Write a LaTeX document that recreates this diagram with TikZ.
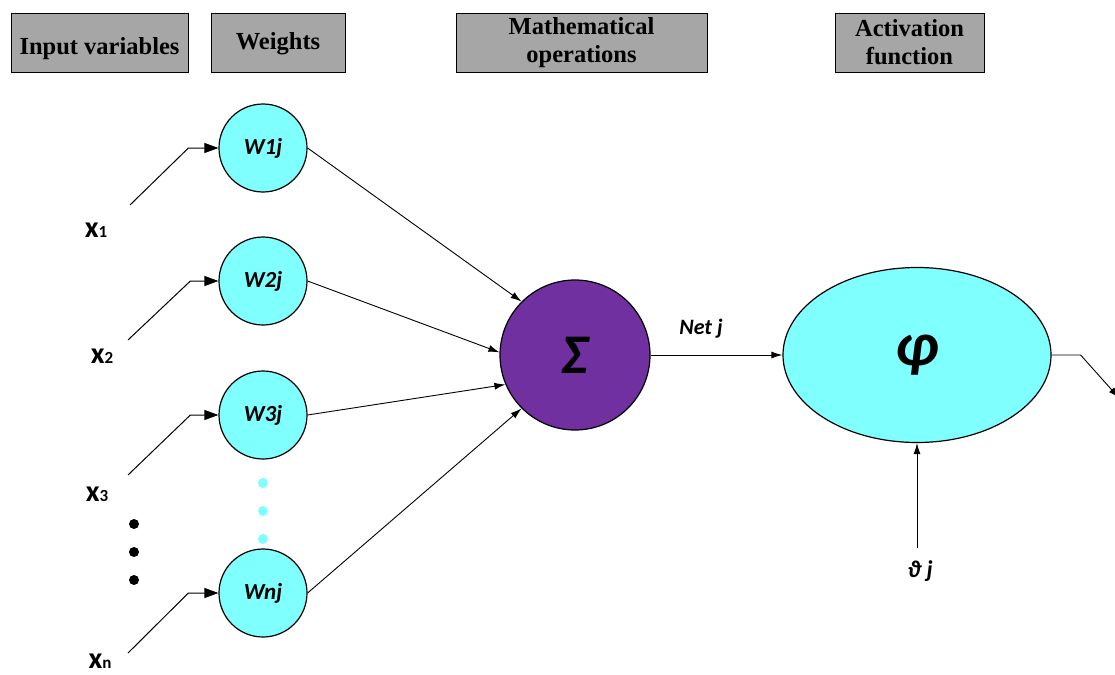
\documentclass[tikz,border=0pt]{standalone}
\usepackage{fontspec}
\setmainfont{Liberation Serif}
\newfontfamily\calib{Carlito}
\usetikzlibrary{arrows.meta,shapes.geometric}
\definecolor{hdrgray}{HTML}{A6A6A6}
\definecolor{wcyan}{HTML}{80FFFF}
\definecolor{spurple}{HTML}{7030A0}
\tikzset{
  header/.style={draw=black, fill=hdrgray, line width=0.9pt, minimum height=59pt, inner sep=0pt, align=center, font=\bfseries\fontsize{24.5}{28}\selectfont},
  wnode/.style={circle, draw=black, fill=wcyan, line width=1.2pt, minimum size=88pt, inner sep=0pt, font=\calib\bfseries\itshape\fontsize{23}{23}\selectfont},
  xlab/.style={inner sep=0pt, font=\calib\bfseries},
  inarrow/.style={line width=1pt, -{Triangle[length=14pt,width=10pt]}},
  conn/.style={line width=0.9pt, -{Latex[length=11pt,width=7pt]}},
  bigsym/.style={font=\calib\bfseries\itshape\fontsize{56}{56}\selectfont},
  smalllab/.style={font=\calib\bfseries\itshape\fontsize{22}{22}\selectfont, inner sep=0pt}
}
\newcommand{\xv}[1]{{\fontsize{30}{30}\selectfont x}{\fontsize{17}{17}\selectfont #1}}
\begin{document}
\begin{tikzpicture}[x=1pt,y=-1pt]
\useasboundingbox (0,0) rectangle (1115,674);
% headers
\node[header, minimum width=177pt, text height=25pt, text depth=0pt] (h1) at (99.5,42.5) {Input variables};
\node[header, minimum width=134pt, text height=15pt, text depth=0pt] (h2) at (278,42.5) {Weights};
\node[header, minimum width=251pt] (h3) at (581.5,42.5) {Mathematical\\operations};
\node[header, minimum width=149pt] (h4) at (909.5,42.5) {Activation\\function};
% weight nodes
\node[wnode] (w1) at (263,148) {W1j};
\node[wnode] (w2) at (263,281) {W2j};
\node[wnode] (w3) at (263,415) {W3j};
\node[wnode] (wn) at (263,593) {Wnj};
% cyan dots
\fill[wcyan] (263,483) circle (5pt) (263,511) circle (5pt) (263,539) circle (5pt);
% black dots
\fill[black] (134,524) circle (5pt) (134,552) circle (5pt) (134,580) circle (5pt);
% inputs
\node[xlab] (x1) at (96,230) {\xv{1}};
\node[xlab] (x2) at (102,356) {\xv{2}};
\node[xlab] (x3) at (97,494) {\xv{3}};
\node[xlab] (xn) at (100,661) {\xv{n}};
\coordinate (s1) at (130,205);
\coordinate (s2) at (128,340);
\coordinate (s3) at (128,475);
\coordinate (sn) at (128,653);
\draw[inarrow] (s1) -- ([xshift=-30pt]w1.west) -- (w1.west);
\draw[inarrow] (s2) -- ([xshift=-28pt]w2.west) -- (w2.west);
\draw[inarrow] (s3) -- ([xshift=-28pt]w3.west) -- (w3.west);
\draw[inarrow] (sn) -- ([xshift=-30pt]wn.west) -- (wn.west);
% sigma
\node[circle, draw=black, fill=spurple, line width=1.2pt, minimum size=150pt, inner sep=0pt, bigsym] (sig) at (575,355) {Σ};
\draw[conn] (w1.east) -- (sig.135);
\draw[conn] (w2.east) -- (sig.178);
\draw[conn] (w3.east) -- (sig.203);
\draw[conn] (wn.east) -- (sig.225);
% activation
\node[ellipse, draw=black, fill=wcyan, line width=1.2pt, minimum width=268pt, minimum height=175pt, inner sep=0pt, font=\calib\bfseries\itshape\fontsize{62}{62}\selectfont] (phi) at (917,355) {φ};
\draw[conn] (sig.east) -- (phi.west);
\node[smalllab] (net) at (701,329) {Net j};
% output
\coordinate (out) at (1119,398);
\draw[conn] (phi.east) -- ++(29,0) -- (out);
% threshold
\node[smalllab, font=\calib\bfseries\itshape\fontsize{24}{24}\selectfont] (theta) at (920,571) {ϑ j};
\coordinate (tb) at (917,548);
\draw[conn] (tb) -- (phi.south);
\end{tikzpicture}
\end{document}
